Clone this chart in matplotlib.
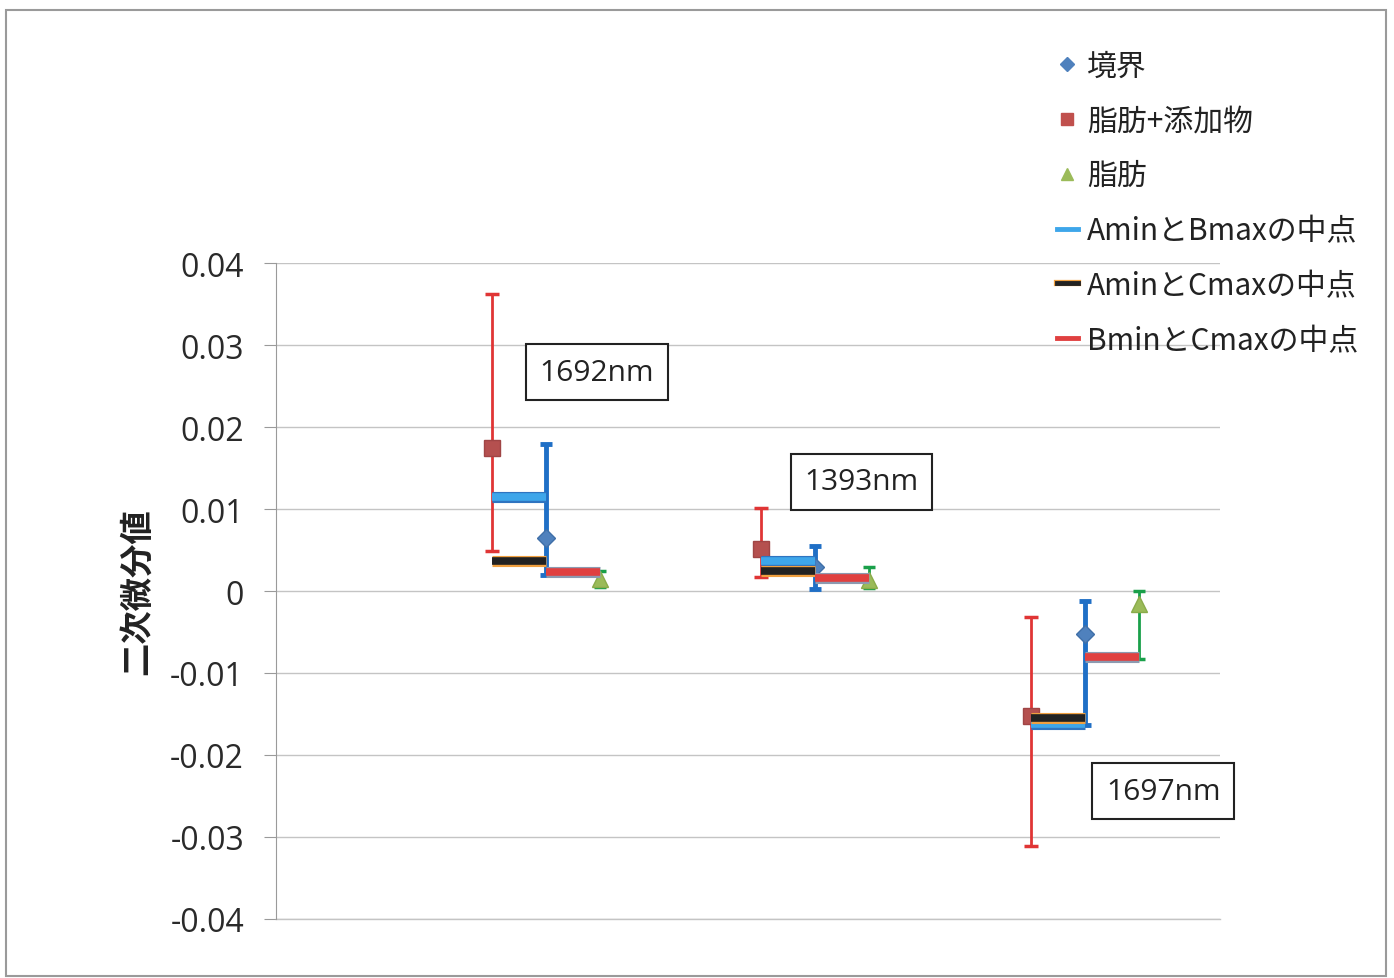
import matplotlib
matplotlib.use("Agg")
import matplotlib.pyplot as plt
import matplotlib.patheffects as pe
from matplotlib.lines import Line2D

plt.rcParams['font.family'] = ['Open Sans', 'Noto Sans CJK JP', 'DejaVu Sans']

# wavelength groups (one cluster per wavelength)
wavelengths = ['1692nm', '1393nm', '1697nm']
group_x = [1, 2, 3]
offset = 0.2

# A: 脂肪+添加物 (value, lower end, upper end)
a_val = [0.0174, 0.0051, -0.0152]
a_min = [0.0049, 0.0017, -0.0311]
a_max = [0.0362, 0.0101, -0.0032]

# B: 境界
b_val = [0.0065, 0.0029, -0.0052]
b_min = [0.0020, 0.0002, -0.0164]
b_max = [0.0179, 0.0055, -0.0012]

# C: 脂肪
c_val = [0.0015, 0.0013, -0.0016]
c_min = [0.0005, 0.0004, -0.0083]
c_max = [0.0024, 0.0029, 0.0000]

# midpoint lines
amin_bmax = [0.0115, 0.0037, -0.0162]
amin_cmax = [0.0037, 0.0024, -0.0155]
bmin_cmax = [0.0023, 0.0016, -0.0081]

label_x = [1.19, 2.17, 3.29]
label_y = [0.0267, 0.0133, -0.0244]

fig = plt.figure(figsize=(13.94, 9.79), dpi=100)
ax = fig.add_axes([0.198, 0.0603, 0.677, 0.670])

# frame round the whole chart
fig.patches.append(plt.Rectangle((0.004, 0.002), 0.990, 0.987, transform=fig.transFigure,
                                 fill=False, edgecolor='#9a9a9a', linewidth=1.5))

xa = [g - offset for g in group_x]
xb = list(group_x)
xc = [g + offset for g in group_x]

def err(vals, lo, hi):
    return [[v - l for v, l in zip(vals, lo)], [h - v for v, h in zip(vals, hi)]]

ax.errorbar(xb, b_val, yerr=err(b_val, b_min, b_max), fmt='none', ecolor='#1f6fc6',
            elinewidth=3.5, capsize=4, capthick=3.5, zorder=3)
ax.errorbar(xa, a_val, yerr=err(a_val, a_min, a_max), fmt='none', ecolor='#e03535',
            elinewidth=2, capsize=5, capthick=2.5, zorder=3)
ax.errorbar(xc, c_val, yerr=err(c_val, c_min, c_max), fmt='none', ecolor='#1aa04a',
            elinewidth=2, capsize=4, capthick=2.5, zorder=3)

ax.plot(xb, b_val, linestyle='none', marker='D', markersize=9,
        markerfacecolor='#4f81bd', markeredgecolor='#3f6fa8', zorder=4)
ax.plot(xa, a_val, linestyle='none', marker='s', markersize=11,
        markerfacecolor='#b5504f', markeredgecolor='#a04545', zorder=4)
ax.plot(xc, c_val, linestyle='none', marker='^', markersize=12,
        markerfacecolor='#9bbb59', markeredgecolor='#8aab4a', zorder=4)

line_styles = [
    (amin_bmax, xa, xb, '#3ea6ea', '#2f74c0'),
    (amin_cmax, xa, xb, '#222222', '#f0a040'),
    (bmin_cmax, xb, xc, '#e04040', '#8c9ab0'),
]
for k, (vals, x0s, x1s, face, edge) in enumerate(line_styles):
    for v, x0, x1 in zip(vals, x0s, x1s):
        ax.plot([x0, x1], [v, v], color=face, linewidth=5.5, solid_capstyle='butt',
                zorder=5 + k,
                path_effects=[pe.Stroke(linewidth=8, foreground=edge), pe.Normal()])

for name, lx, ly in zip(wavelengths, label_x, label_y):
    ax.text(lx, ly, name, ha='center', va='center', fontsize=21.5, color='#222222',
            bbox=dict(boxstyle='square,pad=0.45', facecolor='white',
                      edgecolor='#222222', linewidth=1.5), zorder=8)

ax.set_xlim(0, 3.5)
ax.set_ylim(-0.04, 0.04)
ax.set_yticks([0.04, 0.03, 0.02, 0.01, 0, -0.01, -0.02, -0.03, -0.04])
ax.set_yticklabels(['0.04', '0.03', '0.02', '0.01', '0', '-0.01', '-0.02', '-0.03', '-0.04'])
ax.set_xticks([])
ax.grid(axis='y', color='#c4c4c4', linewidth=1)
ax.axhline(-0.04, color='#c4c4c4', linewidth=1, clip_on=False, zorder=1)
ax.set_axisbelow(True)
for side in ['top', 'right', 'bottom']:
    ax.spines[side].set_visible(False)
ax.spines['left'].set_color('#9a9a9a')
ax.tick_params(axis='y', direction='out', length=9, color='#9a9a9a', labelsize=23,
               labelcolor='#2a2a2a', pad=14)

ax.set_ylabel('二次微分値', family=['Noto Sans CJK JP'], fontsize=24, fontweight='bold',
              color='#222222', labelpad=12)

handles = [
    Line2D([], [], linestyle='none', marker='D', markersize=7, markerfacecolor='#4f81bd',
           markeredgecolor='#4f81bd'),
    Line2D([], [], linestyle='none', marker='s', markersize=9, markerfacecolor='#c0504d',
           markeredgecolor='#c0504d'),
    Line2D([], [], linestyle='none', marker='^', markersize=9, markerfacecolor='#9bbb59',
           markeredgecolor='#9bbb59'),
    Line2D([], [], color='#3ea6ea', linewidth=3.5),
    Line2D([], [], color='#222222', linewidth=3.5,
           path_effects=[pe.Stroke(linewidth=4.5, foreground='#f0a040'), pe.Normal()]),
    Line2D([], [], color='#e04040', linewidth=3.5),
]
labels = ['境界', '脂肪+添加物', '脂肪', 'AminとBmaxの中点', 'AminとCmaxの中点', 'BminとCmaxの中点']
fig.legend(handles, labels, loc='upper left', bbox_to_anchor=(0.739, 0.975),
           frameon=False, handlelength=0.7, handletextpad=0.3, labelspacing=0.8,
           prop={'family': ['Noto Sans CJK JP'], 'size': 21.5}, labelcolor='#222222')

fig.savefig('out.png', dpi=100)
